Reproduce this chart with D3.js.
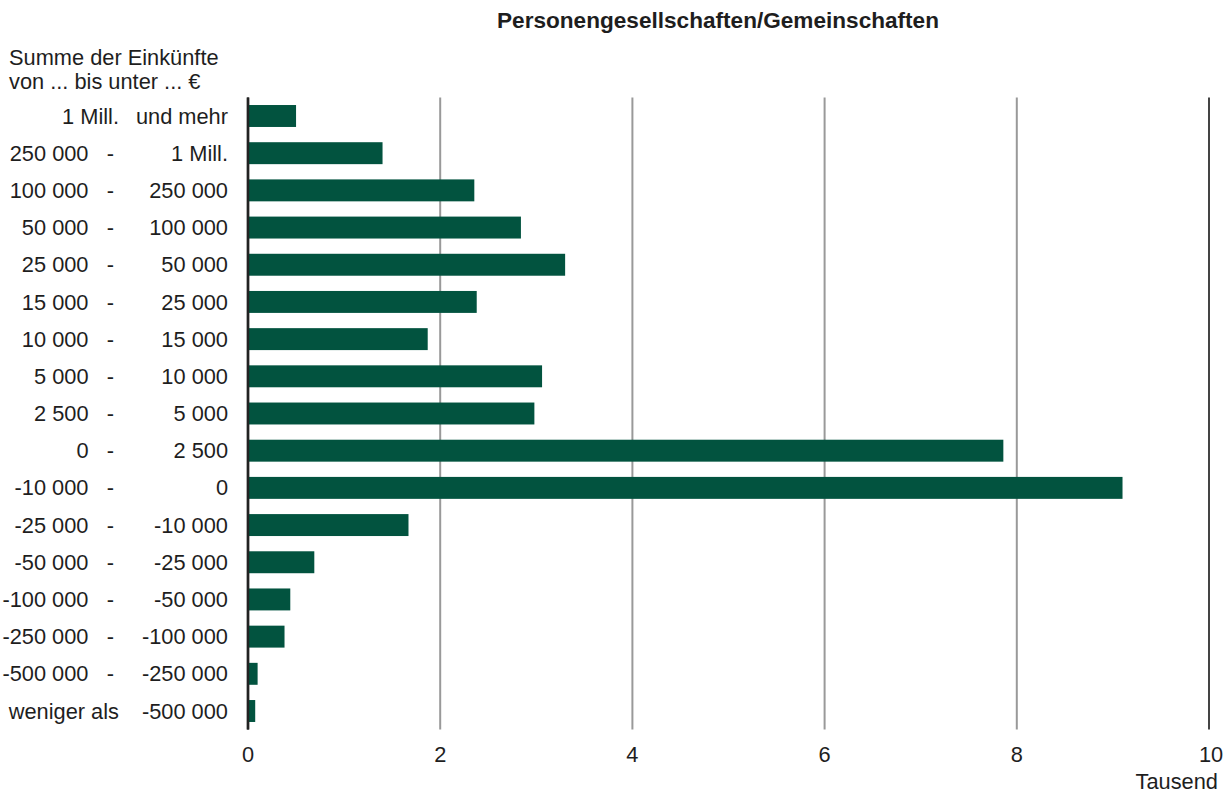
<!DOCTYPE html>
<html>
<head>
<meta charset="utf-8">
<script src="https://cdn.jsdelivr.net/npm/d3@7/dist/d3.min.js"></script>
<style>
    body { margin: 0; background: #fff; }
    svg text { font-family: "Liberation Sans", Arial, sans-serif; fill: #1e1e1e; }
</style>
</head>
<body>
<div class="svg-wrap"><svg></svg></div>
<script>
var width = 1232;
var height = 794;

// income classes, top to bottom
var lowerBounds = ["1 Mill.", "250 000", "100 000", "50 000", "25 000", "15 000", "10 000", "5 000", "2 500", "0",
    "-10 000", "-25 000", "-50 000", "-100 000", "-250 000", "-500 000", "weniger als"];
var upperBounds = ["und mehr", "1 Mill.", "250 000", "100 000", "50 000", "25 000", "15 000", "10 000", "5 000", "2 500",
    "0", "-10 000", "-25 000", "-50 000", "-100 000", "-250 000", "-500 000"];
// number of partnerships, thousand
var values = [0.50, 1.40, 2.355, 2.84, 3.30, 2.38, 1.87, 3.06, 2.98, 7.86,
    9.10, 1.67, 0.69, 0.44, 0.38, 0.10, 0.075];
var xTicks = [0, 2, 4, 6, 8, 10];

var title = "Personengesellschaften/Gemeinschaften";
var headerLines = ["Summe der Einkünfte", "von ... bis unter ... €"];
var unitLabel = "Tausend";

var barColor = "#02533f";
var fontSize = 21.8;

var rows = values.map(function (v, i) {
    return { id: i, lower: lowerBounds[i], upper: upperBounds[i], value: v };
});

var svg = d3.select(".svg-wrap > svg")
    .attr("width", width)
    .attr("height", height);

var x = d3.scaleLinear()
    .domain([0, 10])
    .range([248, 1209]);

var y = d3.scaleBand()
    .domain(rows.map(function (d) { return d.id; }))
    .range([97.4, 729.6])
    .paddingInner(0.41)
    .paddingOuter(0.205);

var yTop = y.range()[0];
var yBottom = y.range()[1];

// grid lines
svg.append("g")
    .attr("class", "grid")
    .selectAll("line")
    .data(xTicks).enter().append("line")
    .attr("x1", x).attr("x2", x)
    .attr("y1", yTop).attr("y2", yBottom)
    .attr("stroke", function (d) { return d == 0 ? "#222" : (d == 10 ? "#444" : "#999"); })
    .attr("stroke-width", function (d) { return d == 0 ? 2.4 : 2; });

// bars
svg.append("g")
    .attr("class", "bars")
    .selectAll("rect")
    .data(rows).enter().append("rect")
    .attr("x", x(0) + 1)
    .attr("y", function (d) { return y(d.id); })
    .attr("width", function (d) { return x(d.value) - x(0) - 1; })
    .attr("height", y.bandwidth())
    .attr("fill", barColor);

// zero axis on top of the bars
svg.append("line")
    .attr("x1", x(0)).attr("x2", x(0))
    .attr("y1", yTop).attr("y2", yBottom)
    .attr("stroke", "#222")
    .attr("stroke-width", 2.4);

// x tick labels
svg.append("g")
    .attr("class", "x-labels")
    .selectAll("text")
    .data(xTicks).enter().append("text")
    .attr("x", function (d) { return x(d) + (d == 10 ? 2 : 0); })
    .attr("y", 762)
    .attr("text-anchor", "middle")
    .attr("font-size", fontSize)
    .text(function (d) { return d; });

svg.append("text")
    .attr("x", 1218)
    .attr("y", 789)
    .attr("text-anchor", "end")
    .attr("font-size", fontSize)
    .text(unitLabel);

// category labels
var isNumber = /^-?[\d ]+$/;
var labels = svg.append("g")
    .attr("class", "y-labels")
    .selectAll("g")
    .data(rows).enter().append("g")
    .attr("transform", function (d) {
        return "translate(0," + (y(d.id) + y.bandwidth() / 2 + 7.6) + ")";
    });

labels.append("text")
    .attr("x", function (d) { return isNumber.test(d.lower) ? 88.5 : 119; })
    .attr("text-anchor", "end")
    .attr("font-size", fontSize)
    .text(function (d) { return d.lower; });

labels.filter(function (d) { return isNumber.test(d.lower); })
    .append("text")
    .attr("x", 110.5)
    .attr("text-anchor", "middle")
    .attr("font-size", fontSize)
    .text("-");

labels.append("text")
    .attr("x", 228)
    .attr("text-anchor", "end")
    .attr("font-size", fontSize)
    .text(function (d) { return d.upper; });

// header and title
svg.append("g")
    .selectAll("text")
    .data(headerLines).enter().append("text")
    .attr("x", 9)
    .attr("y", function (d, i) { return 65 + i * 23.5; })
    .attr("font-size", fontSize)
    .text(function (d) { return d; });

svg.append("text")
    .attr("x", 718)
    .attr("y", 27.5)
    .attr("text-anchor", "middle")
    .attr("font-size", 22.6)
    .attr("font-weight", "bold")
    .text(title);
</script>
</body>
</html>
